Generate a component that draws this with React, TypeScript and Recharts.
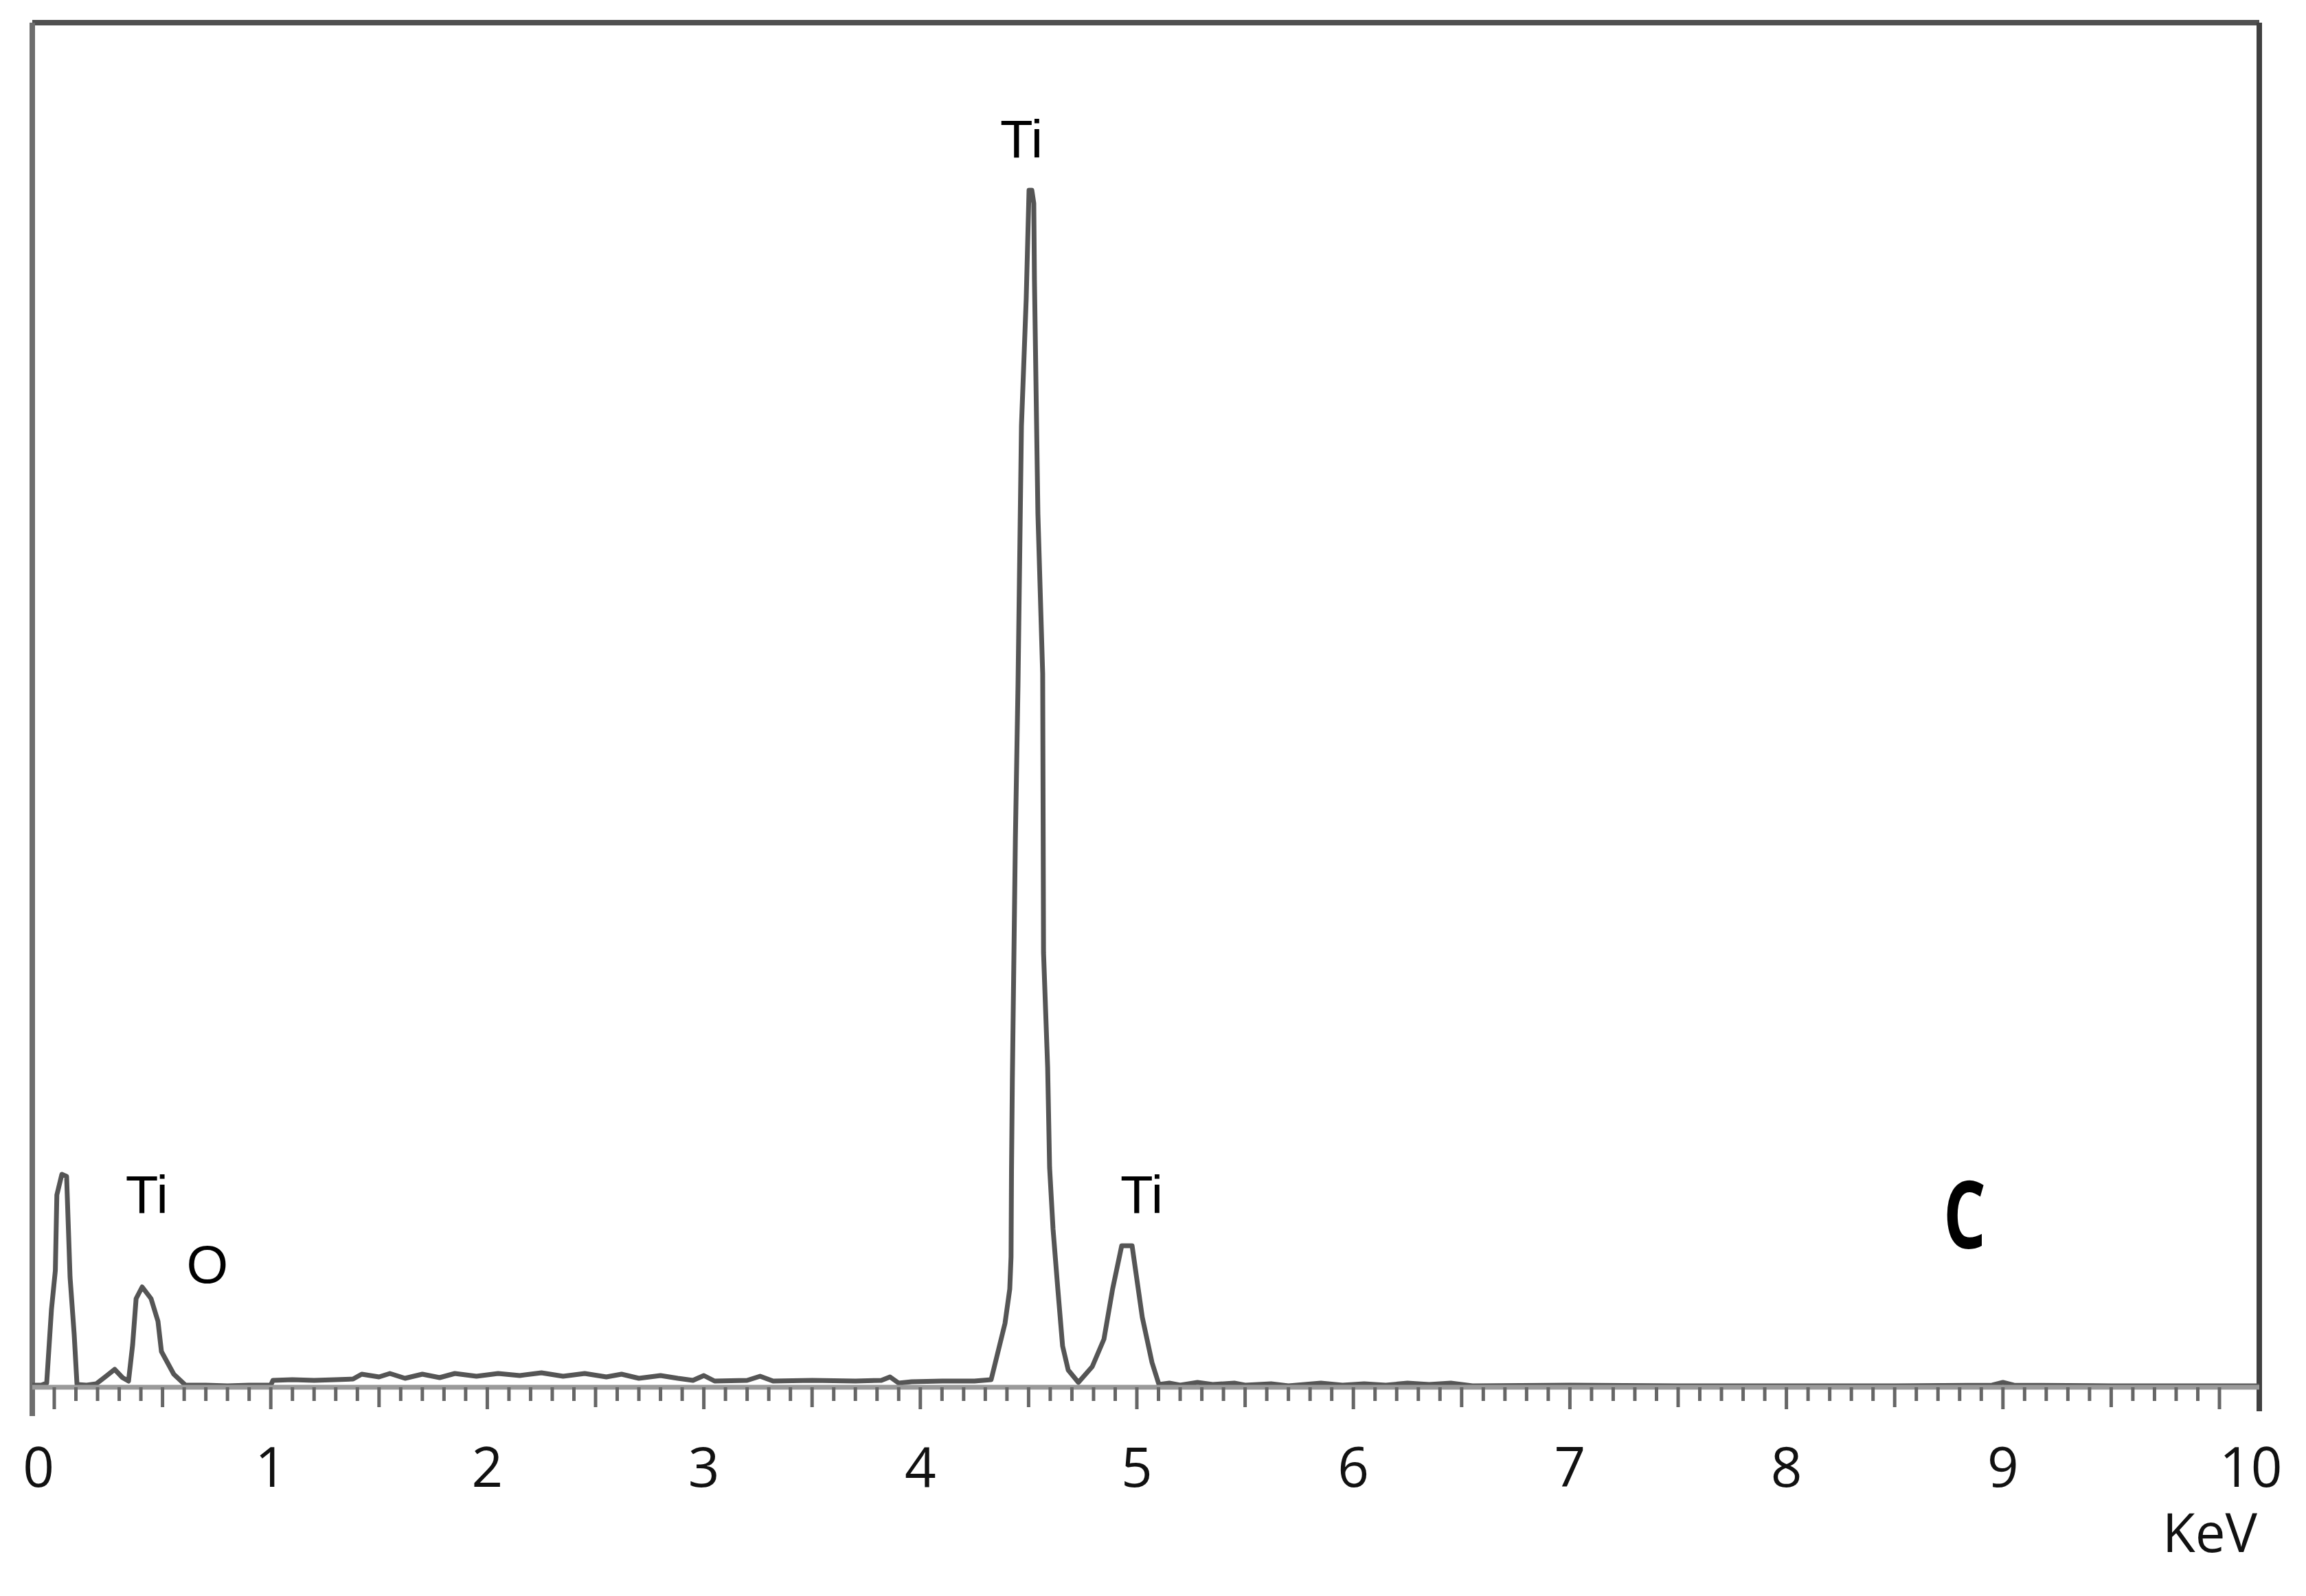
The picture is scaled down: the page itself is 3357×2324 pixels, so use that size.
import React from 'react';
import { LineChart, Line, XAxis, YAxis, ReferenceLine, ReferenceDot } from 'recharts';

// EDS spectrum, energy in keV vs counts (arbitrary units)
const energyKeV = [
  -0.1015, -0.06, -0.035, -0.013, 0.005, 0.012, 0.035, 0.057, 0.073, 0.092, 0.105,
  0.15, 0.194, 0.235, 0.279, 0.315, 0.343, 0.362, 0.378, 0.406, 0.447, 0.479, 0.495, 0.552, 0.606,
  0.7, 0.8, 0.9, 1.0, 1.01, 1.1, 1.2, 1.3, 1.38, 1.42, 1.5, 1.55, 1.62, 1.7, 1.78, 1.85, 1.95,
  2.05, 2.15, 2.25, 2.35, 2.45, 2.55, 2.62, 2.7, 2.8, 2.88, 2.95, 3.0, 3.05, 3.2, 3.26, 3.32,
  3.5, 3.7, 3.82, 3.86, 3.9, 3.96, 4.1, 4.25, 4.327,
  4.391, 4.413, 4.419, 4.421, 4.425, 4.439, 4.451, 4.467, 4.489, 4.502, 4.515, 4.524, 4.527,
  4.543, 4.565, 4.569, 4.588, 4.597, 4.613, 4.635, 4.657, 4.683, 4.73, 4.794, 4.848, 4.888,
  4.93, 4.978, 5.025, 5.07, 5.102,
  5.15, 5.2, 5.28, 5.35, 5.45, 5.5, 5.62, 5.7, 5.85, 5.95, 6.05, 6.15, 6.25, 6.35, 6.45, 6.55,
  7.0, 7.5, 8.0, 8.5, 8.95, 9.0, 9.05, 9.5, 10.0, 10.184,
];

const counts = [
  3, 3, 6, 113, 170, 280, 310, 307, 160, 77, 4,
  3, 5, 15, 26, 14, 9, 62, 129, 146, 129, 96, 52, 19, 3,
  3, 2, 3, 3, 10, 11, 10, 11, 12, 19, 15, 20, 13, 19, 14, 20, 16,
  20, 17, 21, 16, 20, 15, 19, 13, 17, 13, 10, 17, 9, 10, 16, 9,
  10, 9, 10, 15, 6, 8, 9, 9, 11,
  93, 143, 190, 313, 448, 799, 1021, 1400, 1585, 1743, 1743, 1724, 1613,
  1272, 1039, 633, 466, 320, 230, 143, 60, 25, 7, 30, 70, 143,
  206, 206, 102, 36, 4,
  6, 3, 7, 4, 6, 3, 5, 2, 6, 3, 5, 3, 6, 4, 6, 2,
  3, 2, 2, 2, 3, 7, 3, 2, 2, 2,
];

const majorTicks = [0, 1, 2, 3, 4, 5, 6, 7, 8, 9, 10];
const minorTicks = Array.from({ length: 101 }, (_, i) => i / 10);

// peak annotations: [label, keV, counts at text baseline]
const peakLabels: [string, number, number][] = [
  ['Ti', 4.467, 1790],
  ['Ti', 0.428, 253],
  ['O', 0.707, 152],
  ['Ti', 5.022, 253],
];

const X_MIN = -0.1015;
const X_MAX = 10.184;
const Y_MAX = 1987;

const data = energyKeV.map((e, i) => ({ e, c: counts[i] }));

const EnergyTick = (props: any) => {
  const { x, y, payload } = props;
  const r = Math.round(payload.value * 10);
  const isMajor = r % 10 === 0;
  const len = isMajor ? 32 : r % 5 === 0 ? 29 : 20;
  let anchor = 'middle';
  if (r === 0) anchor = 'end';
  if (r === 100) anchor = 'start';
  return (
    <g>
      <line x1={x} y1={y} x2={x} y2={y + len} stroke="#666" strokeWidth={5} />
      {isMajor && majorTicks.includes(r / 10) && (
        <text x={x} y={y + 145} textAnchor={anchor} fontFamily="Open Sans" fontSize={80} fill="#111">
          {r / 10}
        </text>
      )}
    </g>
  );
};

const App: React.FC = () => {
  return (
    <div style={{ position: 'absolute', left: 0, top: 0, width: 3357, height: 2324, background: '#fff' }}>
      <LineChart
        width={3357}
        height={2324}
        data={data}
        margin={{ top: 33, right: 68, bottom: 0, left: 47 }}
      >
        <XAxis
          dataKey="e"
          type="number"
          domain={[X_MIN, X_MAX]}
          ticks={minorTicks}
          interval={0}
          tick={<EnergyTick />}
          tickLine={false}
          tickSize={0}
          tickMargin={0}
          height={304}
          axisLine={{ stroke: '#9a9a9a', strokeWidth: 7 }}
          label={(p: any) => {
            const vb = p.viewBox || { x: 47, y: 2020, width: 3242 };
            return (
              <text x={vb.x + vb.width - 3} y={vb.y + 240} textAnchor="end" fontFamily="Open Sans" fontSize={78} fill="#111">
                KeV
              </text>
            );
          }}
        />
        <YAxis hide domain={[0, Y_MAX]} />

        {/* frame */}
        <ReferenceLine
          segment={[{ x: X_MIN, y: Y_MAX }, { x: X_MAX, y: Y_MAX }]}
          stroke="#505050"
          strokeWidth={8}
          ifOverflow="visible"
        />
        <ReferenceLine
          segment={[{ x: X_MIN, y: -42 }, { x: X_MIN, y: Y_MAX }]}
          stroke="#6e6e6e"
          strokeWidth={8}
          ifOverflow="visible"
        />
        <ReferenceLine
          segment={[{ x: X_MAX, y: -35 }, { x: X_MAX, y: Y_MAX }]}
          stroke="#404040"
          strokeWidth={8}
          ifOverflow="visible"
        />

        <Line
          type="linear"
          dataKey="c"
          stroke="#555"
          strokeWidth={7}
          strokeLinejoin="round"
          dot={false}
          isAnimationActive={false}
        />

        {peakLabels.map(([t, e, c], i) => (
          <ReferenceDot
            key={i}
            x={e}
            y={c}
            r={0}
            fill="none"
            stroke="none"
            label={(p: any) => (
              <text
                x={p.viewBox.x}
                y={p.viewBox.y}
                textAnchor="middle"
                fontFamily="Liberation Sans"
                fontSize={78}
                fill="#000"
              >
                {t}
              </text>
            )}
          />
        ))}
        <ReferenceDot
          x={8.823}
          y={202}
          r={0}
          fill="none"
          stroke="none"
          label={(p: any) => (
            <text
              x={p.viewBox.x - 31}
              y={p.viewBox.y}
              fontFamily="Open Sans"
              fontWeight={700}
              fontSize={136}
              textLength={62}
              lengthAdjust="spacingAndGlyphs"
              fill="#000"
            >
              C
            </text>
          )}
        />
      </LineChart>
    </div>
  );
};

export default App;
